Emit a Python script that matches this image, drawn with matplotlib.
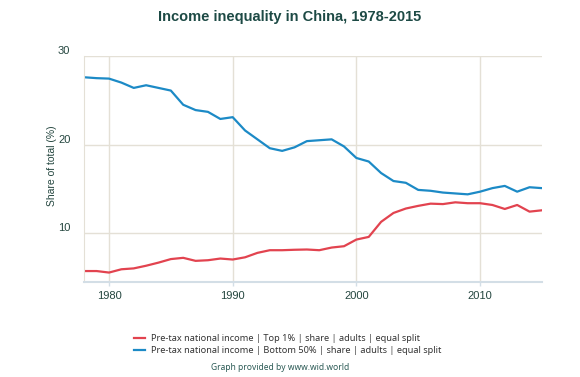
import numpy as np
import matplotlib
matplotlib.use("Agg")
import matplotlib.pyplot as plt

# Data (share of pre-tax national income, %)
years = list(range(1978, 2016))
top1 = [5.75, 5.75, 5.58, 5.95, 6.05, 6.35, 6.7, 7.1, 7.24, 6.9,
        6.97, 7.16, 7.05, 7.3, 7.8, 8.1, 8.1, 8.15, 8.18, 8.1,
        8.4, 8.55, 9.3, 9.6, 11.3, 12.3, 12.8, 13.1, 13.35, 13.3,
        13.5, 13.4, 13.4, 13.2, 12.75, 13.2, 12.45, 12.6]
bottom50 = [27.6, 27.5, 27.45, 27.0, 26.4, 26.7, 26.4, 26.1, 24.5, 23.9,
            23.7, 22.9, 23.1, 21.6, 20.6, 19.6, 19.3, 19.7, 20.4, 20.5,
            20.6, 19.8, 18.5, 18.1, 16.8, 15.9, 15.7, 14.9, 14.8, 14.6,
            14.5, 14.4, 14.7, 15.1, 15.35, 14.7, 15.2, 15.1]
labels = ["Pre-tax national income | Top 1% | share | adults | equal split",
          "Pre-tax national income | Bottom 50% | share | adults | equal split"]
colors = ["#e2434f", "#1c8ac6"]
xticks = [1980, 1990, 2000, 2010]
yticks = [10, 20, 30]

text_col = "#24463f"
grid_col = "#e4e0d6"

fig = plt.figure(figsize=(5.8, 3.77), dpi=100)
ax = fig.add_axes([0.1453, 0.2528, 0.789, 0.5987])

ax.plot(years, top1, color=colors[0], lw=1.6, solid_joinstyle="round", label=labels[0])
ax.plot(years, bottom50, color=colors[1], lw=1.6, solid_joinstyle="round", label=labels[1])

ax.set_xlim(1978, 2015)
ax.set_ylim(4.55, 30)
ax.set_xticks(xticks)
ax.set_yticks(yticks)
ax.grid(True, color=grid_col, lw=1.0)
ax.set_axisbelow(True)
ax.tick_params(length=0, labelsize=8, colors=text_col, labelfontfamily="Liberation Sans")
ax.tick_params(axis="y", pad=10)
ax.tick_params(axis="x", length=3, width=1.0, color="#d3dee6", pad=4)
for lab in ax.get_yticklabels():
    lab.set_verticalalignment("bottom")

for s in ["top", "right"]:
    ax.spines[s].set_visible(False)
ax.spines["left"].set_color(grid_col)
ax.spines["bottom"].set_color("#d3dee6")
ax.spines["bottom"].set_linewidth(1.5)

ax.set_ylabel("Share of total (%)", fontsize=7.5, color=text_col, family="Liberation Sans")
ax.yaxis.set_label_coords(-0.059, 0.513)

fig.text(0.5, 0.955, "Income inequality in China, 1978-2015", ha="center", va="center",
         fontsize=10.5, fontweight="bold", color="#1d4a45", family="Liberation Sans")

leg = fig.legend(loc="center left", bbox_to_anchor=(0.225, 0.086), ncol=1, frameon=False,
                 prop={"family": "Noto Sans", "size": 6.6}, handlelength=1.2,
                 handletextpad=0.6, labelspacing=0.3, borderaxespad=0)
for t in leg.get_texts():
    t.set_color("#333333")

fig.text(0.483, 0.024, "Graph provided by www.wid.world", ha="center", va="center",
         fontsize=6.1, color="#2b5a55", family="Noto Sans")

fig.savefig("out.png", dpi=100)
